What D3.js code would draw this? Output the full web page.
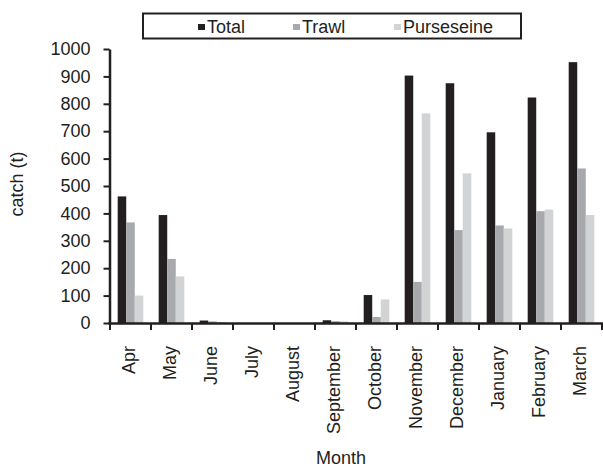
<!DOCTYPE html>
<html>
<head>
<meta charset="utf-8">
<script src="https://cdn.jsdelivr.net/npm/d3@7"></script>
<style>
  html, body { margin: 0; padding: 0; background: #fff; }
  svg { display: block; }
  svg text { font-family: "Liberation Sans", Arial, sans-serif; fill: #231f20; }
</style>
</head>
<body>
<svg id="chart" width="603" height="468"></svg>
<script>
const months = ["Apr", "May", "June", "July", "August", "September", "October", "November", "December", "January", "February", "March"];
const seriesNames = ["Total", "Trawl", "Purseseine"];
const totalValues = [462, 394, 9, 0, 0, 10, 102, 903, 875, 696, 823, 952];
const trawlValues = [367, 234, 6, 0, 0, 7, 22, 150, 339, 356, 408, 564];
const purseseineValues = [100, 170, 4, 0, 0, 6, 86, 765, 546, 345, 414, 394];
const yTicks = [0, 100, 200, 300, 400, 500, 600, 700, 800, 900, 1000];
const seriesColors = ["#231f20", "#a7a9ac", "#d1d3d4"];

(function () {
const valuesBySeries = [totalValues, trawlValues, purseseineValues];
const rows = months.map((m, i) => ({ month: m, values: seriesNames.map((s, j) => ({ series: s, value: valuesBySeries[j][i] })) }));

const svg = d3.select("#chart");
const ink = "#231f20";
const plotLeft = 110, plotRight = 602, plotTop = 49, plotBottom = 323;

const x0 = d3.scaleBand().domain(months).range([plotLeft, plotRight]).padding(0);
const x1 = d3.scaleBand().domain(seriesNames).range([0, x0.bandwidth()]).paddingInner(0).paddingOuter(0.9);
const y = d3.scaleLinear().domain([0, 1000]).range([plotBottom, plotTop]);
const color = d3.scaleOrdinal().domain(seriesNames).range(seriesColors);

// bars
const g = svg.append("g");
g.selectAll("g.grp").data(rows).join("g")
  .attr("class", "grp")
  .attr("transform", d => `translate(${x0(d.month)},0)`)
  .selectAll("rect").data(d => d.values).join("rect")
  .attr("x", d => x1(d.series))
  .attr("width", x1.bandwidth())
  .attr("y", d => y(d.value))
  .attr("height", d => y(0) - y(d.value))
  .attr("fill", d => color(d.series));

// y axis
const yAxis = svg.append("g")
  .attr("transform", `translate(${plotLeft - 0.5},0)`)
  .call(d3.axisLeft(y).tickValues(yTicks).tickFormat(d3.format("d")).tickSize(6).tickPadding(13).tickSizeOuter(0));
yAxis.attr("font-family", null).attr("font-size", null);
yAxis.select(".domain").attr("stroke", ink).attr("stroke-width", 2.5);
yAxis.selectAll(".tick line").attr("stroke", ink).attr("stroke-width", 2);
yAxis.selectAll(".tick text").attr("font-size", 18).attr("fill", ink);

// x axis line
svg.append("line")
  .attr("x1", plotLeft - 1.5).attr("x2", plotRight + 1)
  .attr("y1", y(0) + 0.5).attr("y2", y(0) + 0.5)
  .attr("stroke", ink).attr("stroke-width", 2.5);

// x ticks at band boundaries
const boundaries = months.map(m => x0(m)).concat([x0(months[months.length - 1]) + x0.bandwidth()]);
svg.append("g").selectAll("line").data(boundaries).join("line")
  .attr("x1", d => Math.min(d, plotRight)).attr("x2", d => Math.min(d, plotRight))
  .attr("y1", y(0)).attr("y2", y(0) + 7)
  .attr("stroke", ink).attr("stroke-width", 2);

// x labels
svg.append("g").selectAll("text").data(months).join("text")
  .attr("transform", d => `translate(${x0(d) + x0.bandwidth() / 2},346) rotate(-90)`)
  .attr("text-anchor", "end")
  .attr("dy", "0.25em")
  .attr("font-size", 18)
  .text(d => d);

// axis titles
svg.append("text")
  .attr("x", 341).attr("y", 464)
  .attr("text-anchor", "middle")
  .attr("font-size", 18)
  .text("Month");

svg.append("text")
  .attr("transform", "translate(23,184) rotate(-90)")
  .attr("text-anchor", "middle")
  .attr("font-size", 18)
  .text("catch (t)");

// legend
const legend = svg.append("g");
legend.append("rect")
  .attr("x", 143).attr("y", 13.5)
  .attr("width", 378).attr("height", 25)
  .attr("fill", "#fff").attr("stroke", ink).attr("stroke-width", 2);
const legendX = [198, 293, 394];
const items = legend.selectAll("g.item").data(seriesNames).join("g")
  .attr("class", "item")
  .attr("transform", (d, i) => `translate(${legendX[i]},0)`);
items.append("rect")
  .attr("x", 0).attr("y", 24).attr("width", 7).attr("height", 6)
  .attr("fill", d => color(d));
items.append("text")
  .attr("x", 9).attr("y", 32.5)
  .attr("font-size", 18)
  .text(d => d);
})();
</script>
</body>
</html>
